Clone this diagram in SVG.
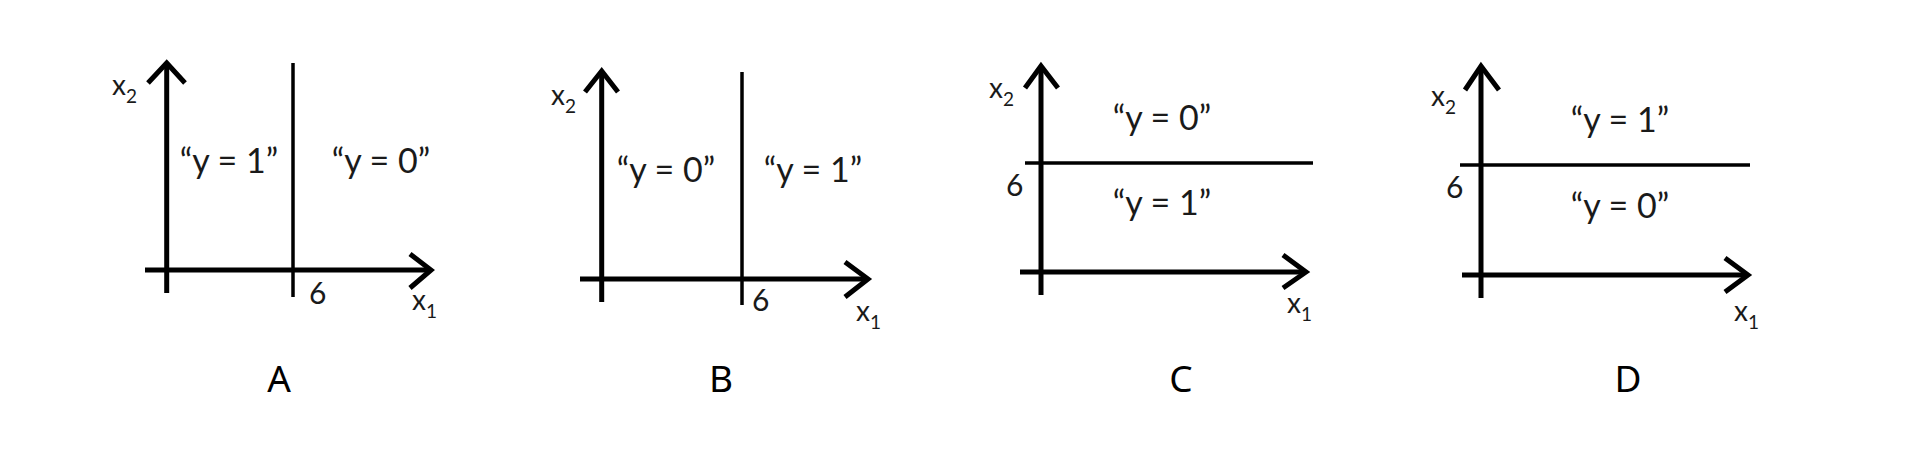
<svg xmlns="http://www.w3.org/2000/svg" width="1928" height="450" viewBox="0 0 1928 450">
<style>
.ax{stroke:#000;stroke-width:5;fill:none;stroke-linecap:butt;stroke-linejoin:miter}
.bd{stroke:#000;stroke-width:3.5;fill:none}
.t{font-family:Lato,"Liberation Sans",sans-serif;fill:#1a1a1a}
.lab{font-size:34px}
.ax2{font-size:28px}
.sub{font-size:19px}
.six{font-size:30px}
.cap{font-family:"Noto Sans","DejaVu Sans",sans-serif;font-size:37px;fill:#000;text-anchor:middle}
</style>
<rect width="1928" height="450" fill="#fff"/>

<g id="panelA">
  <g id="axesA">
    <line class="ax" x1="166.7" y1="64" x2="166.7" y2="293"/>
    <polyline class="ax" points="148,83 166.7,63 185,83"/>
    <line class="ax" x1="145" y1="270" x2="431" y2="270"/>
    <polyline class="ax" points="410,254 431,270 410,288"/>
    <line class="bd" x1="293" y1="63" x2="293" y2="297"/>
  </g>
  <text class="t ax2" x="112" y="95">x<tspan class="sub" dy="8">2</tspan></text>
  <text class="t lab" x="229" y="173" text-anchor="middle">“y = 1”</text>
  <text class="t lab" x="381" y="173" text-anchor="middle">“y = 0”</text>
  <text class="t six" x="309" y="304">6</text>
  <text class="t ax2" x="412" y="310">x<tspan class="sub" dy="8">1</tspan></text>
</g>

<g id="panelB">
  <g id="axesB">
    <line class="ax" x1="601.7" y1="72" x2="601.7" y2="302"/>
    <polyline class="ax" points="585,92 601.7,71 618,92"/>
    <line class="ax" x1="580" y1="279" x2="868" y2="279"/>
    <polyline class="ax" points="845,262 868,279 845,297"/>
    <line class="bd" x1="742" y1="72" x2="742" y2="305"/>
  </g>
  <text class="t ax2" x="551" y="105">x<tspan class="sub" dy="8">2</tspan></text>
  <text class="t lab" x="666" y="182" text-anchor="middle">“y = 0”</text>
  <text class="t lab" x="813" y="182" text-anchor="middle">“y = 1”</text>
  <text class="t six" x="752" y="311">6</text>
  <text class="t ax2" x="856" y="321">x<tspan class="sub" dy="8">1</tspan></text>
</g>

<g id="panelC">
  <g id="axesC">
    <line class="ax" x1="1041" y1="67" x2="1041" y2="295"/>
    <polyline class="ax" points="1025,88 1041,66 1058,88"/>
    <line class="ax" x1="1020" y1="272" x2="1306" y2="272"/>
    <polyline class="ax" points="1283,255 1306,272 1283,288"/>
    <line class="bd" x1="1025" y1="163" x2="1313" y2="163"/>
  </g>
  <text class="t ax2" x="989" y="98">x<tspan class="sub" dy="8">2</tspan></text>
  <text class="t lab" x="1162" y="130" text-anchor="middle">“y = 0”</text>
  <text class="t lab" x="1162" y="215" text-anchor="middle">“y = 1”</text>
  <text class="t six" x="1006" y="196">6</text>
  <text class="t ax2" x="1287" y="313">x<tspan class="sub" dy="8">1</tspan></text>
</g>

<g id="panelD">
  <g id="axesD">
    <line class="ax" x1="1481" y1="67" x2="1481" y2="298"/>
    <polyline class="ax" points="1465,90 1481,66 1499,90"/>
    <line class="ax" x1="1462" y1="275" x2="1748" y2="275"/>
    <polyline class="ax" points="1725,258 1748,275 1725,292"/>
    <line class="bd" x1="1460" y1="165" x2="1750" y2="165"/>
  </g>
  <text class="t ax2" x="1431" y="106">x<tspan class="sub" dy="8">2</tspan></text>
  <text class="t lab" x="1620" y="132" text-anchor="middle">“y = 1”</text>
  <text class="t lab" x="1620" y="218" text-anchor="middle">“y = 0”</text>
  <text class="t six" x="1446" y="198">6</text>
  <text class="t ax2" x="1734" y="321">x<tspan class="sub" dy="8">1</tspan></text>
</g>

<g id="captions">
  <text class="cap" x="279" y="392">A</text>
  <text class="cap" x="721" y="392">B</text>
  <text class="cap" x="1181" y="392">C</text>
  <text class="cap" x="1628" y="392">D</text>
</g>
</svg>
